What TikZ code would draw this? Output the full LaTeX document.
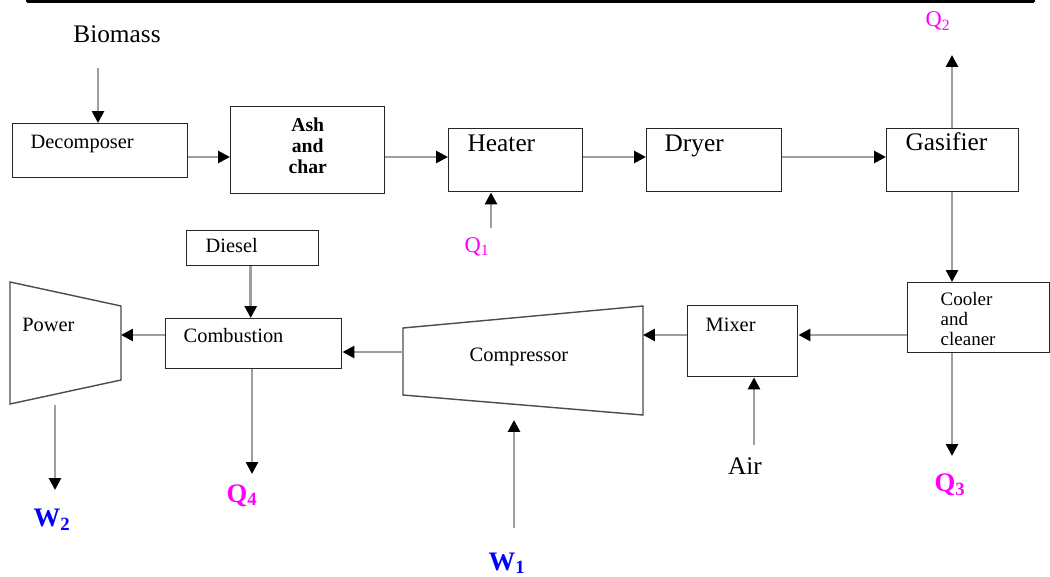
\documentclass[tikz,border=0pt]{standalone}
\usepackage{fontspec}
\setmainfont{Liberation Serif}
\usetikzlibrary{arrows.meta, positioning}

\definecolor{qmag}{RGB}{255,0,255}
\definecolor{wblue}{RGB}{0,0,255}

\begin{document}
\begin{tikzpicture}[
  x=0.025cm, y=-0.025cm,
  every node/.style={font=\fontsize{14.5}{17}\selectfont},
  big/.style={font=\fontsize{18}{21}\selectfont},
  box/.style={rectangle, draw=black!85, line width=1pt, inner ysep=0pt,
    anchor=north west, align=left},
  turbo/.style={draw=black!70, line width=1pt},
  arr/.style={-{Triangle[length=8.5pt, width=8.5pt, color=black]}, line width=1.9pt, draw=black!38},
  lbl/.style={inner sep=0pt, anchor=base},
  qlbl/.style={lbl, text=qmag},
  wlbl/.style={lbl, text=wblue, font=\fontsize{19}{21}\selectfont\bfseries}
]
\useasboundingbox (0,0) rectangle (1050,577);

% ---- table border left over at the top ----
\draw[line width=1.8pt] (27,1.5) -- (1034,1.5);
\foreach \tx in {27,199,627,860,1034}
  \draw[line width=1pt] (\tx,0) -- (\tx,2.5);

% ---- rows for the horizontal streams ----
\coordinate (row1) at (0,157);
\coordinate (row2) at (0,335);
\coordinate (row3) at (0,352);

% ---- TOP LINE: biomass preparation ----
\node[lbl, big] (bio) at (117,43) {Biomass};
\node[box, inner xsep=0.45cm, text width=3.475cm, text height=0.625cm, text depth=0.725cm] (dec) at (12,123) {Decomposer};
\node[box, inner xsep=0pt, text width=3.85cm, align=center, text height=0.625cm, text depth=1.55cm,
  font=\fontsize{14}{14.9}\selectfont\bfseries] (ash) at (230,106) {Ash\\and\\char};
\node[box, big, inner xsep=0.475cm, text width=2.4cm, text height=0.575cm, text depth=1.0cm] (heater) at (448,128) {Heater};
\node[box, big, inner xsep=0.45cm, text width=2.475cm, text height=0.575cm, text depth=1.0cm] (dryer) at (646,128) {Dryer};
\node[box, big, inner xsep=0.475cm, text width=2.35cm, text height=0.55cm, text depth=1.025cm] (gas) at (886,128) {Gasifier};

\coordinate (bio-out) at (98,68);
\draw[arr] (bio-out) -- (bio-out |- dec.north);
\draw[arr] (dec.east |- row1) -- (ash.west |- row1);
\draw[arr] (ash.east |- row1) -- (heater.west |- row1);
\draw[arr] (heater.east |- row1) -- (dryer.west |- row1);
\draw[arr] (dryer.east |- row1) -- (gas.west |- row1);

% heat flows of the top line
\node[qlbl, font=\fontsize{16}{18}\selectfont] (q1) at (477,252) {Q\textsubscript{1}};
\coordinate (q1-in) at (491,228);
\draw[arr] (q1-in) -- (q1-in |- heater.south);
\node[qlbl, font=\fontsize{16}{18}\selectfont] (q2) at (938,27) {Q\textsubscript{2}};
\coordinate (q2-out) at (952,55);
\draw[arr] (gas.north -| q2-out) -- (q2-out);

% ---- GAS CLEANING AND MIXING ----
\node[box, inner xsep=0.825cm, text width=1.9cm, text height=0.575cm, text depth=1.175cm,
  font=\fontsize{13.5}{14.2}\selectfont] (cool) at (907,282) {Cooler\\and\\cleaner};
\node[box, inner xsep=0.45cm, text width=1.85cm, text height=0.65cm, text depth=1.125cm] (mixer) at (687,305) {Mixer};
\draw[arr] (gas.south -| q2-out) -- (q2-out |- cool.north);
\draw[arr] (cool.west |- row2) -- (mixer.east |- row2);

\node[lbl, big] (air) at (745,474) {Air};
\coordinate (air-in) at (754,445);
\draw[arr] (air-in) -- (air-in |- mixer.south);

\node[qlbl, font=\fontsize{19}{21}\selectfont\bfseries] (q3) at (950,491) {Q\textsubscript{3}};
\coordinate (q3-out) at (952,456);
\draw[arr] (q3-out |- cool.south) -- (q3-out);

% ---- COMPRESSOR ----
\node[lbl] (comp) at (519,361) {Compressor};
\draw[turbo] (403,328) coordinate (cmp-nw) -- (643,306) coordinate (cmp-ne)
  -- (643,415) coordinate (cmp-se) -- (403,395) coordinate (cmp-sw) -- cycle;
\draw[arr] (mixer.west |- row2) -- (cmp-ne |- row2);

\node[wlbl] (w1) at (507,570) {W\textsubscript{1}};
\coordinate (w1-in) at (514,528);
\coordinate (w1-tip) at (514,420);
\draw[arr] (w1-in) -- (w1-tip);

% ---- COMBUSTION AND POWER ----
\node[box, inner xsep=0.475cm, text width=2.35cm, text height=0.55cm, text depth=0.325cm] (diesel) at (186,230) {Diesel};
\node[box, inner xsep=0.45cm, text width=3.5cm, text height=0.6cm, text depth=0.65cm] (comb) at (165,318) {Combustion};
\draw[arr] (cmp-nw |- row3) -- (comb.east |- row3);
\draw[arr] ([xshift=-0.05cm]diesel.south) -- ([xshift=-0.05cm]diesel.south |- comb.north);

\node[qlbl, font=\fontsize{19}{21}\selectfont\bfseries] (q4) at (242,502) {Q\textsubscript{4}};
\coordinate (q4-out) at (252,474);
\draw[arr] (q4-out |- comb.south) -- (q4-out);

\node[lbl, anchor=base west] (power) at (22,331) {Power};
\draw[turbo] (10,282) coordinate (pw-nw) -- (121,306) coordinate (pw-ne)
  -- (121,380) coordinate (pw-se) -- (10,404) coordinate (pw-sw) -- cycle;
\draw[arr] (comb.west |- row2) -- (pw-ne |- row2);

\node[wlbl] (w2) at (52,526) {W\textsubscript{2}};
\coordinate (w2-in) at (55,405);
\coordinate (w2-out) at (55,490);
\draw[arr] (w2-in) -- (w2-out);
\end{tikzpicture}
\end{document}
